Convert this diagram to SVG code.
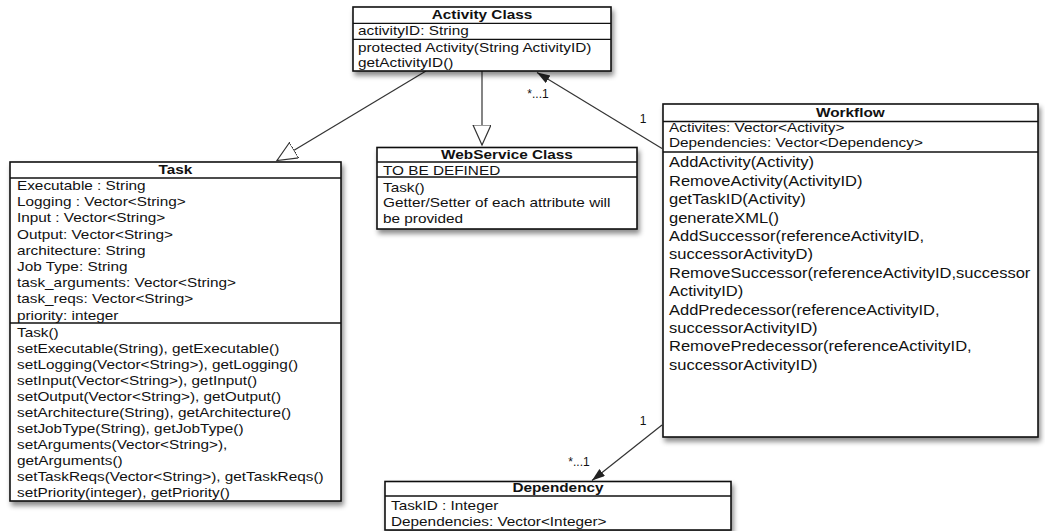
<svg xmlns="http://www.w3.org/2000/svg" width="1045" height="531" viewBox="0 0 1045 531">
  <style>
    text { font-family: "Liberation Sans", Arial, sans-serif; font-size: 13px; fill: #111; }
    .l { transform-box: fill-box; transform-origin: 0 50%; transform: scaleX(1.18); }
    .h { font-weight: bold; text-anchor: middle; transform-box: fill-box; transform-origin: 50% 50%; transform: scaleX(1.18); }
    .m { font-size: 14px; }
    .lbl { font-size: 12px; text-anchor: middle; }
    .box { fill: #fff; stroke: #111; stroke-width: 1.6; filter: url(#shadow); }
    .sep { stroke: #111; stroke-width: 1.3; fill: none; }
    .conn { stroke: #333; stroke-width: 1.2; fill: none; }
  </style>
  <defs>
    <filter id="shadow" x="-10%" y="-10%" width="125%" height="130%">
      <feDropShadow dx="2" dy="4" stdDeviation="2.5" flood-color="#000" flood-opacity="0.45"/>
    </filter>
    <!-- hollow triangle (generalization) -->
    <marker id="tri" markerUnits="userSpaceOnUse" markerWidth="22" markerHeight="20" refX="20" refY="9" orient="auto">
      <path d="M0,0 L20,9 L0,18 Z" fill="#fff" stroke="#333" stroke-width="1.2"/>
    </marker>
    <!-- filled arrowhead (association) -->
    <marker id="arr" markerUnits="userSpaceOnUse" markerWidth="14" markerHeight="10" refX="13" refY="4.5" orient="auto">
      <path d="M0,0 L13,4.5 L0,9 Z" fill="#222"/>
    </marker>
  </defs>

  <!-- connectors -->
  <g id="connectors">
    <line class="conn" x1="426" y1="71" x2="277" y2="160.5" marker-end="url(#tri)"/>
    <line class="conn" x1="482" y1="71" x2="482" y2="145" marker-end="url(#tri)"/>
    <line class="conn" x1="662" y1="148.5" x2="537" y2="72.5" marker-end="url(#arr)"/>
    <line class="conn" x1="662" y1="425" x2="592" y2="480.5" marker-end="url(#arr)"/>
    <text class="lbl" x="538" y="97.5">*...1</text>
    <text class="lbl" x="643" y="123">1</text>
    <text class="lbl" x="643" y="424.5">1</text>
    <text class="lbl" x="579" y="466">*...1</text>
  </g>

  <!-- Activity Class -->
  <g id="activity">
    <rect class="box" x="353" y="7" width="258" height="64"/>
    <line class="sep" x1="353" y1="23.3" x2="611" y2="23.3"/>
    <line class="sep" x1="353" y1="39.3" x2="611" y2="39.3"/>
    <text class="h" x="482" y="19.5">Activity Class</text>
    <text class="l" x="358" y="35.3">activityID: String</text>
    <text class="l" x="358" y="52">protected Activity(String ActivityID)</text>
    <text class="l" x="358" y="67.4">getActivityID()</text>
  </g>

  <!-- Task -->
  <g id="task">
    <rect class="box" x="10" y="162" width="331" height="339"/>
    <line class="sep" x1="10" y1="178" x2="341" y2="178"/>
    <line class="sep" x1="10" y1="323" x2="341" y2="323"/>
    <text class="h" x="175.5" y="174">Task</text>
    <text class="l" x="17" y="190">Executable : String</text>
    <text class="l" x="17" y="206.2">Logging : Vector&lt;String&gt;</text>
    <text class="l" x="17" y="222.4">Input : Vector&lt;String&gt;</text>
    <text class="l" x="17" y="238.6">Output: Vector&lt;String&gt;</text>
    <text class="l" x="17" y="254.8">architecture: String</text>
    <text class="l" x="17" y="271">Job Type: String</text>
    <text class="l" x="17" y="287.2">task_arguments: Vector&lt;String&gt;</text>
    <text class="l" x="17" y="303.4">task_reqs: Vector&lt;String&gt;</text>
    <text class="l" x="17" y="319.6">priority: integer</text>
    <text class="l" x="17" y="337">Task()</text>
    <text class="l" x="17" y="353.05">setExecutable(String), getExecutable()</text>
    <text class="l" x="17" y="369.1">setLogging(Vector&lt;String&gt;), getLogging()</text>
    <text class="l" x="17" y="385.15">setInput(Vector&lt;String&gt;), getInput()</text>
    <text class="l" x="17" y="401.2">setOutput(Vector&lt;String&gt;), getOutput()</text>
    <text class="l" x="17" y="417.25">setArchitecture(String), getArchitecture()</text>
    <text class="l" x="17" y="433.3">setJobType(String), getJobType()</text>
    <text class="l" x="17" y="449.35">setArguments(Vector&lt;String&gt;),</text>
    <text class="l" x="17" y="465.4">getArguments()</text>
    <text class="l" x="17" y="481.45">setTaskReqs(Vector&lt;String&gt;), getTaskReqs()</text>
    <text class="l" x="17" y="497.5">setPriority(integer), getPriority()</text>
  </g>

  <!-- WebService Class -->
  <g id="webservice">
    <rect class="box" x="377" y="147.5" width="260" height="81.5"/>
    <line class="sep" x1="377" y1="162" x2="637" y2="162"/>
    <line class="sep" x1="377" y1="177" x2="637" y2="177"/>
    <text class="h" x="507" y="159.5">WebService Class</text>
    <text class="l" x="383" y="175.5">TO BE DEFINED</text>
    <text class="l" x="383" y="192">Task()</text>
    <text class="l" x="383" y="207.5">Getter/Setter of each attribute will</text>
    <text class="l" x="383" y="223">be provided</text>
  </g>

  <!-- Workflow -->
  <g id="workflow">
    <rect class="box" x="663" y="104" width="375" height="333"/>
    <line class="sep" x1="663" y1="121.5" x2="1038" y2="121.5"/>
    <line class="sep" x1="663" y1="152" x2="1038" y2="152"/>
    <text class="h" x="850.5" y="117.5">Workflow</text>
    <text class="l" x="669" y="132.5">Activites: Vector&lt;Activity&gt;</text>
    <text class="l" x="669" y="147.5">Dependencies: Vector&lt;Dependency&gt;</text>
    <text class="l m" x="669" y="167.5">AddActivity(Activity)</text>
    <text class="l m" x="669" y="185.9">RemoveActivity(ActivityID)</text>
    <text class="l m" x="669" y="204.3">getTaskID(Activity)</text>
    <text class="l m" x="669" y="222.7">generateXML()</text>
    <text class="l m" x="669" y="241.1">AddSuccessor(referenceActivityID,</text>
    <text class="l m" x="669" y="259.5">successorActivityD)</text>
    <text class="l m" x="669" y="277.9">RemoveSuccessor(referenceActivityID,successor</text>
    <text class="l m" x="669" y="296.3">ActivityID)</text>
    <text class="l m" x="669" y="314.7">AddPredecessor(referenceActivityID,</text>
    <text class="l m" x="669" y="333.1">successorActivityID)</text>
    <text class="l m" x="669" y="351.5">RemovePredecessor(referenceActivityID,</text>
    <text class="l m" x="669" y="369.9">successorActivityID)</text>
  </g>

  <!-- Dependency -->
  <g id="dependency">
    <rect class="box" x="385" y="481.5" width="346" height="48.5"/>
    <line class="sep" x1="385" y1="496" x2="731" y2="496"/>
    <text class="h" x="558" y="492.5">Dependency</text>
    <text class="l" x="391" y="510.5">TaskID : Integer</text>
    <text class="l" x="391" y="526">Dependencies: Vector&lt;Integer&gt;</text>
  </g>
</svg>
